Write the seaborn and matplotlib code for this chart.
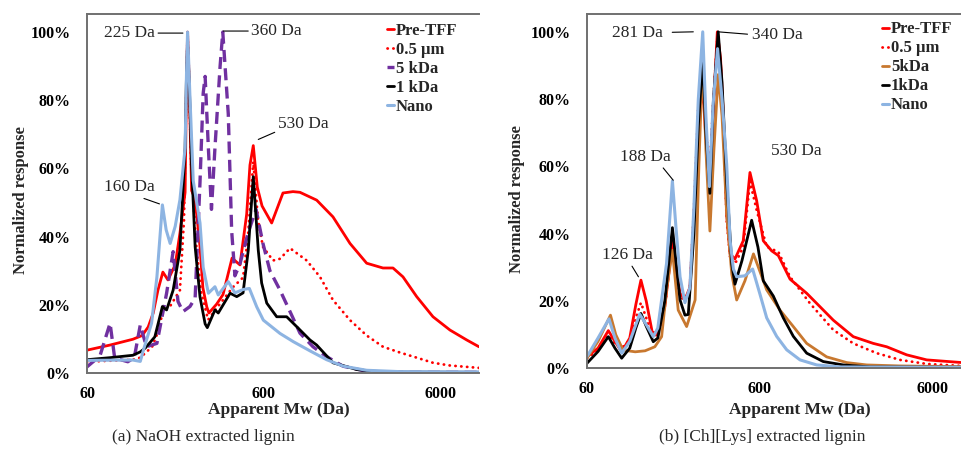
#!/usr/bin/env python3
"""GPC traces of lignin fractions after tangential flow filtration (two panels)."""

import matplotlib.pyplot as plt
import seaborn as sns

# ---- (a) NaOH extracted lignin: apparent Mw (Da) vs normalized response (%)
NAOH_PRE_MW = [60, 81, 109, 123, 133, 142, 151, 161, 172, 189, 201, 215, 219, 222, 226, 234,
               241, 250, 261, 271, 285, 293, 324, 352, 396, 439, 479, 500, 522, 550, 585, 663,
               768, 875, 958, 1191, 1472, 1837, 2282, 2821, 3214, 3660, 4374, 5407, 6745,
               8380, 9836]
NAOH_PRE_RESP = [6.7, 8.2, 9.9, 11, 13.5, 17.6, 24.3, 29.6, 27.3, 31.7, 41, 53, 85, 100, 88, 53.5,
                 52, 46.6, 37, 25, 19.4, 17.6, 20.2, 23, 33.7, 31.7, 46.6, 61, 66.7, 54.5, 49, 44,
                 52.8, 53.2, 53, 50.7, 45.8, 38, 32.2, 30.8, 30.8, 28.2, 22.4, 16.5, 12.6,
                 9.7, 7.7]

NAOH_05_MW = [60, 109, 120, 140, 151, 161, 177, 201, 212, 218, 222, 226, 232, 248, 264, 290,
              324, 401, 457, 487, 522, 555, 592, 675, 739, 842, 1046, 1243, 1472, 1837, 2282,
              2821, 3520, 4374, 5407, 6745, 9836]
NAOH_05_RESP = [3.3, 3.9, 4.5, 7.7, 12, 18, 19.6, 24.3, 45, 80, 100, 88, 62, 38, 24, 15.6,
                19, 25.2, 28, 40, 62, 45, 37, 33, 33.5, 36.6, 33, 28.2, 21.4, 15.5, 11,
                7.7, 6, 4.5, 3, 2.2, 1.5]

NAOH_5K_MW = [60, 71, 81, 86, 102, 111, 120, 130, 149, 169, 184, 196, 209, 229, 245,
              261, 272, 279, 291, 303, 317, 339, 351, 377, 394, 411, 439, 487, 541, 592,
              648, 739, 842, 958, 1135, 1356, 1677, 2282, 3520, 9836]
NAOH_5K_RESP = [1.8, 5, 14.6, 4.4, 3.3, 4.5, 14.1, 7.7, 8.7, 23.4, 35.6, 21, 18, 19.5, 22,
                56, 82, 87, 66, 48, 66, 90, 100, 76, 41.7, 28.5, 32, 41, 48, 38,
                30, 24.3, 18, 11.7, 7.7, 4.8, 2, 0.5, 0.2, 0.2]

NAOH_1K_MW = [60, 81, 109, 120, 128, 145, 160, 169, 184, 201, 215, 219, 222, 227, 234, 245,
              261, 279, 287, 317, 331, 386, 421, 457, 489, 522, 557, 582, 622, 708, 806, 918,
              1091, 1191, 1472, 2011, 2714, 9836]
NAOH_1K_RESP = [3.9, 4.5, 5.2, 6.2, 7.3, 10.6, 19.5, 18.5, 24.3, 36, 66, 88, 97, 85, 61, 37,
                22.3, 14.4, 13.3, 18.5, 17.6, 23.4, 22.4, 23.5, 36, 57.6, 36, 26.4, 20.5, 16.5,
                16.5, 13.6, 9.7, 8.2, 3, 1, 0.3, 0.2]

NAOH_NANO_MW = [60, 109, 120, 125, 139, 149, 160, 168, 177, 189, 201, 215, 219, 222, 225, 229,
                239, 250, 261, 272, 291, 317, 331, 377, 411, 458, 496, 546, 595, 739, 878, 1091,
                1356, 1683, 2282, 3520, 9836]
NAOH_NANO_RESP = [3.7, 3.8, 3.4, 6.7, 14.6, 28.2, 49.3, 42, 38, 43, 50.8, 66, 88, 100, 92, 81,
                  56.4, 50, 44, 31, 23.4, 25.3, 22.9, 26.8, 23.5, 24.5, 24.8, 19.4, 15.5, 11.6,
                  9.2, 6.5, 3.9, 2, 0.8, 0.4, 0.3]

# ---- (b) [Ch][Lys] extracted lignin
CHLYS_PRE_MW = [60, 69.5, 79.7, 87, 95.2, 106, 115, 123, 132, 143, 154, 169, 187, 207, 221,
                236, 249, 264, 280, 292, 306, 321, 340, 355, 368, 385, 403, 430, 480, 525,
                574, 627, 701, 766, 895, 1117, 1592, 2077, 2710, 3240, 4228, 5518, 8826]
CHLYS_PRE_RESP = [3.4, 6, 11.2, 8, 4.9, 9, 19, 26.2, 20, 10.7, 10.5, 18.3, 37.2, 22.3, 20.5,
                  24, 45, 72, 84, 68, 55, 75, 100, 92, 75.6, 45.8, 34, 32.5, 37.9, 58.2,
                  49.8, 37.9, 34.9, 33.5, 26.5, 22.3, 14.3, 9.4, 7.4, 6.4, 4, 2.5, 1.7]

CHLYS_05_MW = [60, 69.5, 79.7, 87, 95.2, 106, 115, 123, 132, 143, 154, 169, 187, 207, 221,
               236, 249, 264, 280, 292, 306, 321, 340, 355, 368, 385, 403, 430, 480, 525,
               574, 656, 766, 895, 1167, 1592, 2077, 2836, 3867, 5518, 8826]
CHLYS_05_RESP = [3, 5.5, 9.8, 7.5, 6, 8.5, 15, 19.5, 15, 9.5, 10, 18, 38, 21, 20.5,
                 24, 47, 78, 90, 72, 57, 78, 98, 90, 74, 44, 33, 31, 36, 55.5,
                 47, 36.1, 34.6, 27.2, 19.3, 11.4, 7.4, 4.5, 2.5, 1.3, 0.7]

CHLYS_5K_MW = [60, 69.5, 82, 88, 97, 114, 130, 148, 162, 173, 187, 202, 226, 253, 266,
               280, 292, 308, 325, 344, 362, 385, 412, 440, 491, 550, 656, 783, 935, 1117,
               1457, 1903, 2483, 3867, 8826]
CHLYS_5K_RESP = [3, 8, 15.8, 10, 5.4, 4.9, 5.2, 6.4, 9.4, 23.3, 35.1, 17.3, 12.4, 20.3, 60,
                 93, 65, 40.8, 65, 87.3, 75, 45.8, 28, 20.3, 26, 34, 23.3, 17.3, 12.4, 7.4,
                 3.4, 1.7, 1, 0.7, 0.5]

CHLYS_1K_MW = [60, 69.5, 79.7, 87, 95.2, 106, 115, 123, 132, 145, 154, 169, 187, 207, 221,
               231, 249, 264, 280, 292, 308, 323, 344, 362, 385, 412, 430, 472, 537, 584,
               627, 716, 818, 935, 1117, 1393, 1818, 2594, 8826]
CHLYS_1K_RESP = [1.5, 5, 9.4, 6, 3, 6, 12, 16.3, 12.5, 7.9, 9, 20, 41.8, 20.3, 15.8,
                 16, 40, 72, 92, 70, 52, 80, 100, 85, 55.7, 31, 25, 32, 44, 36,
                 26, 21.5, 15, 9.5, 4.5, 2, 1, 0.4, 0.3]

CHLYS_NANO_MW = [60, 69.5, 80.4, 87, 95.2, 106, 115, 121, 132, 145, 154, 173, 187, 196, 207,
                 221, 236, 249, 264, 280, 292, 306, 321, 341, 362, 385, 403, 421, 440, 491,
                 544, 600, 656, 749, 856, 1022, 1276, 1740, 8826]
CHLYS_NANO_RESP = [3.5, 9, 14.7, 9, 4.5, 8, 13, 16.1, 13, 9.4, 12, 31.2, 55.7, 42, 27.2,
                   19.5, 24, 48, 80, 100, 75, 54, 78, 95, 80, 60.7, 38, 29.5, 27.2, 27.5,
                   29.5, 22, 15, 9.5, 5.5, 2.5, 1, 0.4, 0.3]

NAOH_LABELS = ["Pre-TFF", "0.5 µm", "5 kDa", "1 kDa", "Nano"]
CHLYS_LABELS = ["Pre-TFF", "0.5 µm", "5kDa", "1kDa", "Nano"]
X_TICKS = [60, 600, 6000]
X_MINOR = [180, 300, 360, 420, 1200]
Y_TICKS = [0, 20, 40, 60, 80, 100]

SERIF = ["Liberation Serif", "DejaVu Serif"]
GRAY = "#707070"

STYLES = [
    dict(color="#FF0000", linewidth=2.0),
    dict(color="#FF0000", linewidth=2.0, linestyle=(0, (0.1, 2.0)), dash_capstyle="round"),
    None,  # 5 kDa style differs between panels (purple dashes / orange solid)
    dict(color="black", linewidth=2.0),
    dict(color="#8DB4E2", linewidth=2.2),
]
PURPLE_DASH = dict(color="#7030A0", linewidth=2.4, linestyle=(0, (3.6, 1.9)))
ORANGE = dict(color="#C8782F", linewidth=2.0)


def style_axes(ax, xmax, legend_anchor, labels):
    ax.set_xscale("log")
    ax.set_xlim(60, xmax)
    ax.set_ylim(0, 105.3)
    ax.set_xticks(X_TICKS, labels=[str(v) for v in X_TICKS], fontsize=11.5, fontweight="bold")
    ax.set_xticks(X_MINOR, minor=True)
    ax.xaxis.set_minor_formatter(plt.NullFormatter())
    ax.set_yticks(Y_TICKS, labels=[f"{v}%" for v in Y_TICKS], fontsize=11.5, fontweight="bold")
    ax.set_yticks(range(0, 105, 4), minor=True)
    ax.tick_params(axis="x", which="major", direction="inout", length=8, width=1,
                   color=GRAY, pad=5)
    ax.tick_params(axis="x", which="minor", direction="in", length=4, width=1, color=GRAY)
    ax.tick_params(axis="y", which="major", direction="out", length=5, width=1,
                   color=GRAY, pad=7)
    ax.tick_params(axis="y", which="minor", direction="in", length=3, width=0.6,
                   color="#d0d0d0")
    ax.tick_params(labelcolor="black")
    for side in ("top", "left", "bottom"):
        ax.spines[side].set_color(GRAY)
        ax.spines[side].set_linewidth(1.4)
    ax.spines["right"].set_visible(False)
    ax.set_ylabel("Normalized response", fontsize=12, fontweight="bold")
    ax.set_xlabel("Apparent Mw (Da)", fontsize=12.5, fontweight="bold")
    handles = ax.get_lines()[:5]
    ax.legend(handles, labels, loc="upper left", bbox_to_anchor=legend_anchor,
              frameon=False, borderpad=0, borderaxespad=0, handlelength=0.45,
              handletextpad=0.1, labelspacing=0.18,
              prop=dict(family=SERIF, weight="bold", size=12))


def note(ax, text, xy, xytext, ha="left", relpos=(0.5, 0.5), line=True, gap=0):
    props = None
    if line:
        props = dict(arrowstyle="-", color="black", lw=0.8, shrinkA=gap, shrinkB=0,
                     relpos=relpos)
        if gap:
            props["patchA"] = None
    ax.annotate(text, xy=xy, xytext=xytext, ha=ha, va="center", fontsize=12.5,
                arrowprops=props)


sns.set_theme(style="white")
plt.rcParams["font.family"] = SERIF

fig = plt.figure(figsize=(9.62, 4.57), dpi=100)
ax_a = fig.add_axes([87 / 962, 84 / 457, 392 / 962, 359 / 457])
ax_b = fig.add_axes([587 / 962, 88.7 / 457, 392 / 962, 354.3 / 457])

naoh = [(NAOH_PRE_MW, NAOH_PRE_RESP), (NAOH_05_MW, NAOH_05_RESP), (NAOH_5K_MW, NAOH_5K_RESP),
        (NAOH_1K_MW, NAOH_1K_RESP), (NAOH_NANO_MW, NAOH_NANO_RESP)]
chlys = [(CHLYS_PRE_MW, CHLYS_PRE_RESP), (CHLYS_05_MW, CHLYS_05_RESP),
         (CHLYS_5K_MW, CHLYS_5K_RESP), (CHLYS_1K_MW, CHLYS_1K_RESP),
         (CHLYS_NANO_MW, CHLYS_NANO_RESP)]

for ax, data, five_k in ((ax_a, naoh, PURPLE_DASH), (ax_b, chlys, ORANGE)):
    for i, (mw, resp) in enumerate(data):
        kws = STYLES[i] if STYLES[i] is not None else five_k
        sns.lineplot(x=mw, y=resp, ax=ax, sort=False, estimator=None, legend=False, **kws)

style_axes(ax_a, 9840, (0.7645, 0.975), NAOH_LABELS)
style_axes(ax_b, 11070, (0.7518, 0.979), CHLYS_LABELS)

ax_a.xaxis.set_label_coords(0.49, -0.081)
ax_a.yaxis.set_label_coords(-0.149, 0.482)
ax_b.xaxis.set_label_coords(0.543, -0.095)
ax_b.yaxis.set_label_coords(-0.158, 0.479)

note(ax_a, "225 Da", xy=(209, 99.7), xytext=(145, 99.7), ha="right", relpos=(1, 0.5))
note(ax_a, "360 Da", xy=(353, 100.3), xytext=(510, 100.3), relpos=(0, 0.5))
note(ax_a, "530 Da", xy=(557, 68.5), xytext=(720, 72.9), relpos=(0, 0.1))
note(ax_a, "160 Da", xy=(154, 49.6), xytext=(75, 54.5), relpos=(0.6, 0))

note(ax_b, "281 Da", xy=(247, 100), xytext=(83.3, 99.8), relpos=(1, 0.5), gap=7)
note(ax_b, "340 Da", xy=(344, 100), xytext=(537, 99.2), relpos=(0, 0.5), gap=3)
note(ax_b, "188 Da", xy=(189, 55.9), xytext=(93, 62.9), relpos=(0.8, 0))
note(ax_b, "126 Da", xy=(119, 27.2), xytext=(73.3, 33.7), relpos=(0.55, 0))
note(ax_b, "530 Da", xy=(695, 64.6), xytext=(695, 64.6), line=False)

fig.text(203 / 962, 1 - 437 / 457, "(a) NaOH extracted lignin", ha="center", va="center",
         fontsize=12.5)
fig.text(762 / 962, 1 - 437 / 457, "(b) [Ch][Lys] extracted lignin", ha="center",
         va="center", fontsize=12.5)

fig.savefig("out.png", dpi=100)
